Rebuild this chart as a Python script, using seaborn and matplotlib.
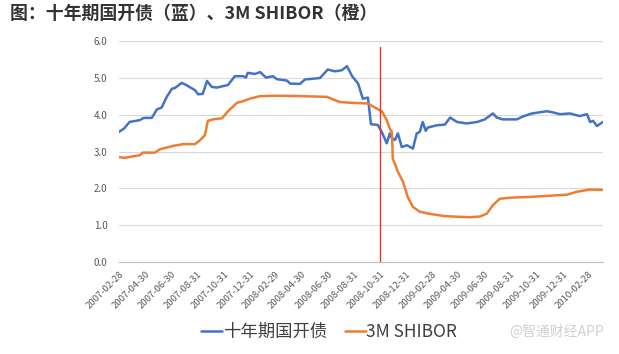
import pandas as pd
import seaborn as sns
import matplotlib.pyplot as plt

# 10Y CDB bond yield (blue)
cdb_dates = ["2007-02-28", "2007-03-12", "2007-03-25", "2007-04-18", "2007-04-27", "2007-05-16",
             "2007-05-28", "2007-06-08", "2007-06-20", "2007-07-02", "2007-07-09", "2007-07-25",
             "2007-08-06", "2007-08-25", "2007-09-01", "2007-09-12", "2007-09-22", "2007-10-03",
             "2007-10-15", "2007-10-29", "2007-11-10", "2007-11-26", "2007-12-15", "2007-12-22",
             "2007-12-26", "2008-01-12", "2008-01-24", "2008-02-07", "2008-02-23", "2008-03-03",
             "2008-03-27", "2008-04-03", "2008-04-26", "2008-05-08", "2008-06-12", "2008-06-30",
             "2008-07-17", "2008-08-02", "2008-08-14", "2008-08-26", "2008-09-09", "2008-09-20",
             "2008-10-02", "2008-10-09", "2008-10-25", "2008-11-04", "2008-11-15", "2008-11-22",
             "2008-11-27", "2008-12-04", "2008-12-11", "2008-12-20", "2009-01-01", "2009-01-15",
             "2009-01-24", "2009-01-31", "2009-02-07", "2009-02-14", "2009-02-19", "2009-03-12",
             "2009-03-31", "2009-04-12", "2009-04-28", "2009-05-21", "2009-06-14", "2009-07-02",
             "2009-07-21", "2009-07-30", "2009-08-13", "2009-09-15", "2009-09-29", "2009-10-20",
             "2009-11-24", "2009-12-08", "2009-12-25", "2010-01-17", "2010-02-09", "2010-02-26",
             "2010-03-05", "2010-03-12", "2010-03-21", "2010-04-04"]
cdb_values = [3.53, 3.62, 3.80, 3.85, 3.91, 3.91,
              4.14, 4.19, 4.48, 4.70, 4.72, 4.86,
              4.79, 4.66, 4.55, 4.56, 4.91, 4.75,
              4.73, 4.77, 4.80, 5.04, 5.04, 5.00,
              5.13, 5.10, 5.15, 5.00, 5.04, 4.96,
              4.92, 4.84, 4.83, 4.95, 4.99, 5.22,
              5.17, 5.20, 5.31, 5.04, 4.84, 4.43,
              4.46, 3.74, 3.72, 3.51, 3.22, 3.49,
              3.36, 3.31, 3.49, 3.12, 3.17, 3.08,
              3.49, 3.53, 3.80, 3.56, 3.65, 3.71,
              3.73, 3.92, 3.80, 3.76, 3.80, 3.87,
              4.03, 3.92, 3.87, 3.87, 3.95, 4.03,
              4.09, 4.06, 4.01, 4.03, 3.96, 4.01,
              3.80, 3.83, 3.69, 3.80]

# 3M SHIBOR (orange)
shibor_dates = ["2007-02-28", "2007-03-14", "2007-04-18", "2007-04-25", "2007-05-23", "2007-06-04",
                "2007-07-04", "2007-07-28", "2007-08-25", "2007-09-05", "2007-09-17", "2007-09-24",
                "2007-10-06", "2007-10-27", "2007-11-10", "2007-12-01", "2007-12-15", "2007-12-31",
                "2008-01-24", "2008-03-03", "2008-04-26", "2008-06-28", "2008-07-28", "2008-08-21",
                "2008-10-02", "2008-10-23", "2008-11-04", "2008-11-15", "2008-11-22", "2008-11-27",
                "2008-11-29", "2008-12-11", "2008-12-23", "2009-01-03", "2009-01-15", "2009-01-31",
                "2009-02-24", "2009-03-31", "2009-05-28", "2009-06-21", "2009-07-07", "2009-07-21",
                "2009-08-06", "2009-08-30", "2009-10-15", "2009-12-25", "2010-01-10", "2010-02-02",
                "2010-03-05", "2010-04-04"]
shibor_values = [2.85, 2.83, 2.90, 2.97, 2.97, 3.06,
                 3.15, 3.20, 3.20, 3.30, 3.44, 3.83,
                 3.87, 3.90, 4.09, 4.32, 4.36, 4.43,
                 4.50, 4.51, 4.50, 4.48, 4.34, 4.32,
                 4.30, 4.16, 4.08, 3.85, 3.62, 3.53,
                 2.81, 2.45, 2.18, 1.77, 1.50, 1.37,
                 1.31, 1.25, 1.22, 1.24, 1.32, 1.55,
                 1.72, 1.75, 1.77, 1.82, 1.83, 1.91,
                 1.97, 1.96]

tick_labels = ["2007-02-28", "2007-04-30", "2007-06-30", "2007-08-31", "2007-10-31", "2007-12-31",
               "2008-02-29", "2008-04-30", "2008-06-30", "2008-08-31", "2008-10-31", "2008-12-31",
               "2009-02-28", "2009-04-30", "2009-06-30", "2009-08-31", "2009-10-31", "2009-12-31",
               "2010-02-28"]
event_date = "2008-10-31"

df = pd.concat([
    pd.DataFrame({"date": pd.to_datetime(cdb_dates), "rate": cdb_values, "series": "十年期国开债"}),
    pd.DataFrame({"date": pd.to_datetime(shibor_dates), "rate": shibor_values, "series": "3M SHIBOR"}),
])

sns.set_style("white")
plt.rcParams['font.family'] = ['Noto Sans CJK SC', 'DejaVu Sans']

fig = plt.figure(figsize=(6.19, 3.54), dpi=100)
ax = fig.add_axes([0.192, 0.259, 0.782, 0.626])

sns.lineplot(data=df, x="date", y="rate", hue="series", ax=ax,
             palette={"十年期国开债": "#4472C4", "3M SHIBOR": "#ED7D31"}, linewidth=1.8)

ax.axvline(pd.Timestamp(event_date), ymin=0, ymax=0.97, color="#D63C36", linewidth=1.0)

ax.set_xlim(pd.Timestamp("2007-02-28"), pd.Timestamp("2010-04-04"))
ax.set_ylim(0, 6)
ax.set_yticks([0, 1, 2, 3, 4, 5, 6])
ax.set_yticklabels([f"{v:.1f}" for v in range(7)], fontsize=7, color="#595959")
ax.set_xticks(pd.to_datetime(tick_labels))
ax.set_xticklabels(tick_labels, rotation=45, ha="right", rotation_mode="anchor",
                   fontsize=6.8, color="#595959")
ax.tick_params(axis="x", length=3, color="#BFBFBF", width=0.8, pad=2)
ax.tick_params(axis="y", length=0, pad=8)
ax.yaxis.grid(True, color="#D9D9D9", linewidth=0.8)
ax.set_axisbelow(True)
for side in ["top", "right", "left"]:
    ax.spines[side].set_visible(False)
ax.spines["bottom"].set_color("#BFBFBF")
ax.set_xlabel("")
ax.set_ylabel("")

sns.move_legend(ax, "center", bbox_to_anchor=(0.435, -0.315), ncol=2, frameon=False,
                title=None, fontsize=12.5, handlelength=1.2, handletextpad=0.05, columnspacing=1.0,
                labelcolor="#404040")

fig.text(0.016, 0.96, "图：十年期国开债（蓝）、3M SHIBOR（橙）", fontsize=12.9,
         fontweight="bold", fontstyle="italic", color="#333333", va="center", ha="left")
fig.text(0.975, 0.062, "@智通财经APP", fontsize=10, color="#D0D0D0", va="center", ha="right")

fig.savefig("out.png", dpi=100)
